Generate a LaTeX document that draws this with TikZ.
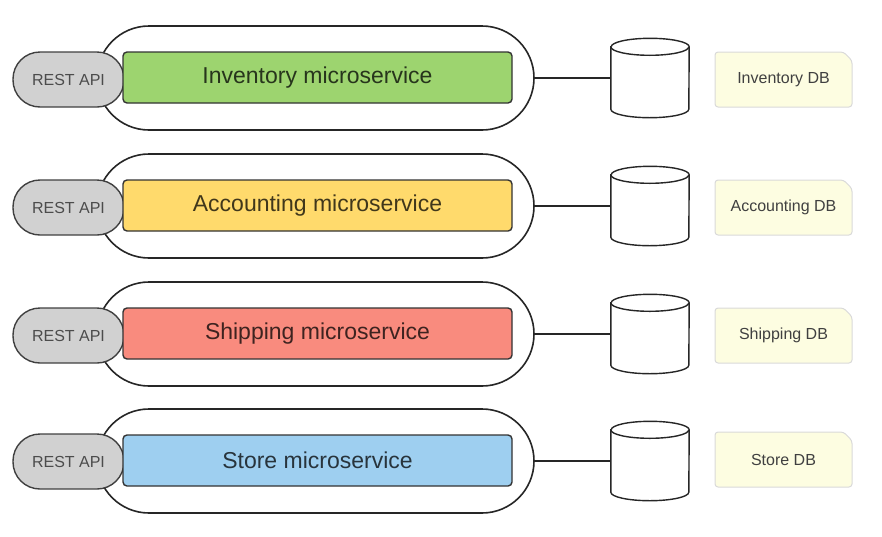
\documentclass[tikz,border=0pt]{standalone}
\usepackage{fontspec}
\setmainfont{Liberation Sans}
\usetikzlibrary{shapes.misc}
\definecolor{invfill}{HTML}{9DD46F}
\definecolor{accfill}{HTML}{FFDA6C}
\definecolor{shipfill}{HTML}{F98B7E}
\definecolor{storefill}{HTML}{9ECFF0}
\definecolor{notefill}{HTML}{FDFDE1}

\begin{document}
\begin{tikzpicture}[%
x=1pt, y=-1pt,
capsule/.style={draw=black!85, line width=1.6pt, fill=white, rounded corners=52pt, minimum width=437pt, minimum height=104pt, inner sep=0pt},
restapi/.style={draw=black!75, line width=1.4pt, fill=black!18, rounded corners=27pt, minimum width=111pt, minimum height=55pt, inner sep=0pt, text=black!70, font=\fontsize{16}{18}\selectfont},
service/.style={draw=black!80, line width=1.4pt, rounded corners=4pt, minimum width=389pt, minimum height=51pt, inner sep=0pt, font=\fontsize{23}{26}\selectfont},
db/.style={minimum width=78pt, minimum height=79pt, inner sep=0pt},
dbline/.style={draw=black!85, line width=1.4pt, fill=white},
dbnote/.style={chamfered rectangle, chamfered rectangle corners=north east, chamfered rectangle xsep=5pt, draw=black!15, line width=1pt, fill=notefill, rounded corners=3pt, minimum width=137pt, minimum height=55pt, inner sep=0pt, text=black!75, font=\fontsize{16}{18}\selectfont},
link/.style={draw=black!85, line width=1.5pt},
]
\useasboundingbox (0,0) rectangle (882,536);
%% inventory;
\node [capsule] (invouter) at (315.5,78) {};
\node [restapi] (invapi) at (68.5,79.5) {REST API};
\node [service, fill=invfill, text=invfill!25!black] (invsvc) at (317.5,77.5) {Inventory microservice};
\node [db] (invdb) at (650,78) {};
\filldraw [dbline] ([yshift=-8.5pt]invdb.north west) -- ([yshift=8.5pt]invdb.south west) arc[start angle=180, end angle=360, x radius=39pt, y radius=8.5pt] -- ([yshift=-8.5pt]invdb.north east) arc[start angle=0, end angle=180, x radius=39pt, y radius=8.5pt] -- cycle;
\draw [dbline] ([yshift=-8.5pt]invdb.north west) arc[start angle=180, end angle=360, x radius=39pt, y radius=8.5pt];
\node [dbnote] (invnote) at (783.5,79.5) {Inventory DB};
\draw [link] (invouter.east) -- (invdb.west);
%% accounting;
\node [capsule] (accouter) at (315.5,206) {};
\node [restapi] (accapi) at (68.5,207.5) {REST API};
\node [service, fill=accfill, text=accfill!25!black] (accsvc) at (317.5,205.5) {Accounting microservice};
\node [db] (accdb) at (650,206) {};
\filldraw [dbline] ([yshift=-8.5pt]accdb.north west) -- ([yshift=8.5pt]accdb.south west) arc[start angle=180, end angle=360, x radius=39pt, y radius=8.5pt] -- ([yshift=-8.5pt]accdb.north east) arc[start angle=0, end angle=180, x radius=39pt, y radius=8.5pt] -- cycle;
\draw [dbline] ([yshift=-8.5pt]accdb.north west) arc[start angle=180, end angle=360, x radius=39pt, y radius=8.5pt];
\node [dbnote] (accnote) at (783.5,207.5) {Accounting DB};
\draw [link] (accouter.east) -- (accdb.west);
%% shipping;
\node [capsule] (shipouter) at (315.5,334) {};
\node [restapi] (shipapi) at (68.5,335.5) {REST API};
\node [service, fill=shipfill, text=shipfill!25!black] (shipsvc) at (317.5,333.5) {Shipping microservice};
\node [db] (shipdb) at (650,334) {};
\filldraw [dbline] ([yshift=-8.5pt]shipdb.north west) -- ([yshift=8.5pt]shipdb.south west) arc[start angle=180, end angle=360, x radius=39pt, y radius=8.5pt] -- ([yshift=-8.5pt]shipdb.north east) arc[start angle=0, end angle=180, x radius=39pt, y radius=8.5pt] -- cycle;
\draw [dbline] ([yshift=-8.5pt]shipdb.north west) arc[start angle=180, end angle=360, x radius=39pt, y radius=8.5pt];
\node [dbnote] (shipnote) at (783.5,335.5) {Shipping DB};
\draw [link] (shipouter.east) -- (shipdb.west);
%% store;
\node [capsule] (storeouter) at (315.5,461) {};
\node [restapi] (storeapi) at (68.5,461.5) {REST API};
\node [service, fill=storefill, text=storefill!25!black] (storesvc) at (317.5,460.5) {Store microservice};
\node [db] (storedb) at (650,461) {};
\filldraw [dbline] ([yshift=-8.5pt]storedb.north west) -- ([yshift=8.5pt]storedb.south west) arc[start angle=180, end angle=360, x radius=39pt, y radius=8.5pt] -- ([yshift=-8.5pt]storedb.north east) arc[start angle=0, end angle=180, x radius=39pt, y radius=8.5pt] -- cycle;
\draw [dbline] ([yshift=-8.5pt]storedb.north west) arc[start angle=180, end angle=360, x radius=39pt, y radius=8.5pt];
\node [dbnote] (storenote) at (783.5,459.5) {Store DB};
\draw [link] (storeouter.east) -- (storedb.west);
\end{tikzpicture}
\end{document}
